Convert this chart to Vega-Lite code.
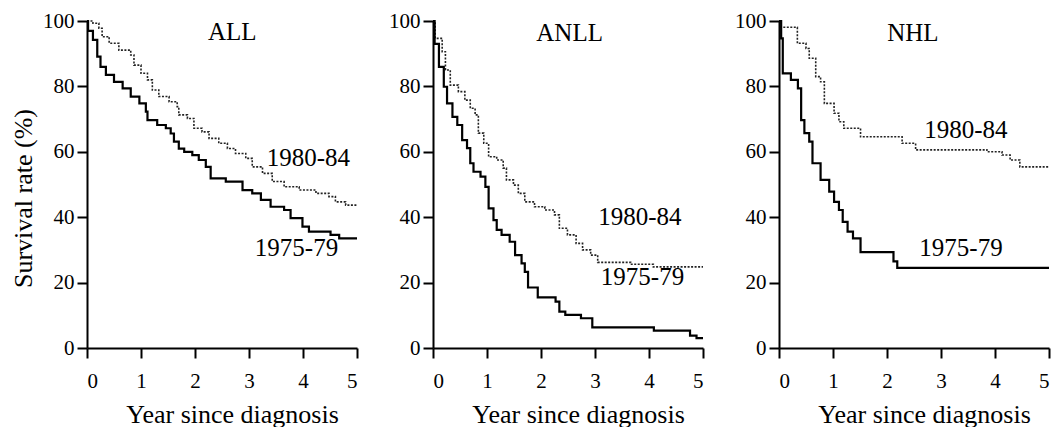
{
  "$schema": "https://vega.github.io/schema/vega-lite/v6.json",
  "background": "white",
  "padding": {"left": 10, "top": 10, "right": 0, "bottom": 0},
  "config": {
    "view": {"stroke": null},
    "font": "Liberation Serif",
    "axis": {
      "domainColor": "black", "domainWidth": 2,
      "tickColor": "black", "tickWidth": 2, "tickSize": 10,
      "labelFont": "Liberation Serif", "labelFontSize": 21, "labelColor": "black",
      "titleFont": "Liberation Serif", "titleFontSize": 26, "titleFontWeight": "normal", "titleColor": "black",
      "grid": false
    },
    "axisX": {"labelPadding": 12, "titlePadding": 10, "titleX": 145, "labelFontSize": 21, "labelFont": "Liberation Serif"},
    "axisY": {"labelPadding": 3, "labelFont": "Liberation Serif"}
  },
  "datasets": {
    "surv": [
      {"panel": "ALL", "period": "1975-79", "t": 0, "v": 100},
      {"panel": "ALL", "period": "1975-79", "t": 0.02, "v": 97},
      {"panel": "ALL", "period": "1975-79", "t": 0.11, "v": 94.2},
      {"panel": "ALL", "period": "1975-79", "t": 0.19, "v": 89.1},
      {"panel": "ALL", "period": "1975-79", "t": 0.25, "v": 86},
      {"panel": "ALL", "period": "1975-79", "t": 0.35, "v": 83.5},
      {"panel": "ALL", "period": "1975-79", "t": 0.5, "v": 81.4},
      {"panel": "ALL", "period": "1975-79", "t": 0.66, "v": 79.4},
      {"panel": "ALL", "period": "1975-79", "t": 0.81, "v": 76.9},
      {"panel": "ALL", "period": "1975-79", "t": 0.97, "v": 74.8},
      {"panel": "ALL", "period": "1975-79", "t": 1.09, "v": 72.3},
      {"panel": "ALL", "period": "1975-79", "t": 1.12, "v": 69.7},
      {"panel": "ALL", "period": "1975-79", "t": 1.3, "v": 68.2},
      {"panel": "ALL", "period": "1975-79", "t": 1.46, "v": 67.2},
      {"panel": "ALL", "period": "1975-79", "t": 1.55, "v": 65.6},
      {"panel": "ALL", "period": "1975-79", "t": 1.61, "v": 63.1},
      {"panel": "ALL", "period": "1975-79", "t": 1.7, "v": 61},
      {"panel": "ALL", "period": "1975-79", "t": 1.8, "v": 60},
      {"panel": "ALL", "period": "1975-79", "t": 1.95, "v": 59},
      {"panel": "ALL", "period": "1975-79", "t": 2.07, "v": 57.5},
      {"panel": "ALL", "period": "1975-79", "t": 2.2, "v": 55.4},
      {"panel": "ALL", "period": "1975-79", "t": 2.29, "v": 51.9},
      {"panel": "ALL", "period": "1975-79", "t": 2.57, "v": 50.9},
      {"panel": "ALL", "period": "1975-79", "t": 2.88, "v": 48.3},
      {"panel": "ALL", "period": "1975-79", "t": 3.06, "v": 47.3},
      {"panel": "ALL", "period": "1975-79", "t": 3.22, "v": 45.3},
      {"panel": "ALL", "period": "1975-79", "t": 3.4, "v": 43.2},
      {"panel": "ALL", "period": "1975-79", "t": 3.65, "v": 42.2},
      {"panel": "ALL", "period": "1975-79", "t": 3.77, "v": 39.7},
      {"panel": "ALL", "period": "1975-79", "t": 3.99, "v": 37.1},
      {"panel": "ALL", "period": "1975-79", "t": 4.11, "v": 35.6},
      {"panel": "ALL", "period": "1975-79", "t": 4.51, "v": 34.6},
      {"panel": "ALL", "period": "1975-79", "t": 4.67, "v": 33.5},
      {"panel": "ALL", "period": "1975-79", "t": 5, "v": 33.5},
      {"panel": "ALL", "period": "1980-84", "t": 0, "v": 100},
      {"panel": "ALL", "period": "1980-84", "t": 0.11, "v": 99.3},
      {"panel": "ALL", "period": "1980-84", "t": 0.22, "v": 97.8},
      {"panel": "ALL", "period": "1980-84", "t": 0.28, "v": 95.2},
      {"panel": "ALL", "period": "1980-84", "t": 0.41, "v": 93.2},
      {"panel": "ALL", "period": "1980-84", "t": 0.59, "v": 91.1},
      {"panel": "ALL", "period": "1980-84", "t": 0.81, "v": 89.6},
      {"panel": "ALL", "period": "1980-84", "t": 0.87, "v": 86.5},
      {"panel": "ALL", "period": "1980-84", "t": 1.0, "v": 84},
      {"panel": "ALL", "period": "1980-84", "t": 1.12, "v": 82},
      {"panel": "ALL", "period": "1980-84", "t": 1.21, "v": 78.9},
      {"panel": "ALL", "period": "1980-84", "t": 1.33, "v": 76.9},
      {"panel": "ALL", "period": "1980-84", "t": 1.52, "v": 75.3},
      {"panel": "ALL", "period": "1980-84", "t": 1.67, "v": 73.8},
      {"panel": "ALL", "period": "1980-84", "t": 1.7, "v": 71.3},
      {"panel": "ALL", "period": "1980-84", "t": 1.86, "v": 70.2},
      {"panel": "ALL", "period": "1980-84", "t": 1.98, "v": 67.2},
      {"panel": "ALL", "period": "1980-84", "t": 2.13, "v": 66.1},
      {"panel": "ALL", "period": "1980-84", "t": 2.26, "v": 64.1},
      {"panel": "ALL", "period": "1980-84", "t": 2.44, "v": 62.6},
      {"panel": "ALL", "period": "1980-84", "t": 2.6, "v": 61},
      {"panel": "ALL", "period": "1980-84", "t": 2.75, "v": 59.5},
      {"panel": "ALL", "period": "1980-84", "t": 2.94, "v": 58},
      {"panel": "ALL", "period": "1980-84", "t": 3.06, "v": 55.4},
      {"panel": "ALL", "period": "1980-84", "t": 3.25, "v": 53.4},
      {"panel": "ALL", "period": "1980-84", "t": 3.43, "v": 50.9},
      {"panel": "ALL", "period": "1980-84", "t": 3.65, "v": 49.3},
      {"panel": "ALL", "period": "1980-84", "t": 3.93, "v": 48.3},
      {"panel": "ALL", "period": "1980-84", "t": 4.24, "v": 47.3},
      {"panel": "ALL", "period": "1980-84", "t": 4.48, "v": 46.3},
      {"panel": "ALL", "period": "1980-84", "t": 4.6, "v": 44.7},
      {"panel": "ALL", "period": "1980-84", "t": 4.79, "v": 43.7},
      {"panel": "ALL", "period": "1980-84", "t": 5, "v": 43.7},
      {"panel": "ANLL", "period": "1975-79", "t": 0, "v": 100},
      {"panel": "ANLL", "period": "1975-79", "t": 0.03, "v": 93},
      {"panel": "ANLL", "period": "1975-79", "t": 0.11, "v": 86},
      {"panel": "ANLL", "period": "1975-79", "t": 0.2, "v": 79.9},
      {"panel": "ANLL", "period": "1975-79", "t": 0.26, "v": 74.8},
      {"panel": "ANLL", "period": "1975-79", "t": 0.36, "v": 70.7},
      {"panel": "ANLL", "period": "1975-79", "t": 0.45, "v": 68.2},
      {"panel": "ANLL", "period": "1975-79", "t": 0.54, "v": 63.6},
      {"panel": "ANLL", "period": "1975-79", "t": 0.63, "v": 61.1},
      {"panel": "ANLL", "period": "1975-79", "t": 0.69, "v": 56.5},
      {"panel": "ANLL", "period": "1975-79", "t": 0.75, "v": 53.9},
      {"panel": "ANLL", "period": "1975-79", "t": 0.88, "v": 52.4},
      {"panel": "ANLL", "period": "1975-79", "t": 0.97, "v": 49.3},
      {"panel": "ANLL", "period": "1975-79", "t": 1.03, "v": 42.7},
      {"panel": "ANLL", "period": "1975-79", "t": 1.12, "v": 39.1},
      {"panel": "ANLL", "period": "1975-79", "t": 1.18, "v": 36.1},
      {"panel": "ANLL", "period": "1975-79", "t": 1.27, "v": 34.6},
      {"panel": "ANLL", "period": "1975-79", "t": 1.42, "v": 32.5},
      {"panel": "ANLL", "period": "1975-79", "t": 1.52, "v": 28.4},
      {"panel": "ANLL", "period": "1975-79", "t": 1.64, "v": 25.9},
      {"panel": "ANLL", "period": "1975-79", "t": 1.7, "v": 23.3},
      {"panel": "ANLL", "period": "1975-79", "t": 1.76, "v": 18.5},
      {"panel": "ANLL", "period": "1975-79", "t": 1.94, "v": 15.5},
      {"panel": "ANLL", "period": "1975-79", "t": 2.27, "v": 14.2},
      {"panel": "ANLL", "period": "1975-79", "t": 2.34, "v": 11.1},
      {"panel": "ANLL", "period": "1975-79", "t": 2.45, "v": 10.1},
      {"panel": "ANLL", "period": "1975-79", "t": 2.74, "v": 9.1},
      {"panel": "ANLL", "period": "1975-79", "t": 2.95, "v": 6.3},
      {"panel": "ANLL", "period": "1975-79", "t": 4.09, "v": 5.3},
      {"panel": "ANLL", "period": "1975-79", "t": 4.76, "v": 3.8},
      {"panel": "ANLL", "period": "1975-79", "t": 4.88, "v": 3.0},
      {"panel": "ANLL", "period": "1975-79", "t": 5, "v": 3.0},
      {"panel": "ANLL", "period": "1980-84", "t": 0, "v": 100},
      {"panel": "ANLL", "period": "1980-84", "t": 0.04, "v": 94.7},
      {"panel": "ANLL", "period": "1980-84", "t": 0.17, "v": 90.6},
      {"panel": "ANLL", "period": "1980-84", "t": 0.23, "v": 85},
      {"panel": "ANLL", "period": "1980-84", "t": 0.32, "v": 80.4},
      {"panel": "ANLL", "period": "1980-84", "t": 0.47, "v": 78.4},
      {"panel": "ANLL", "period": "1980-84", "t": 0.59, "v": 75.8},
      {"panel": "ANLL", "period": "1980-84", "t": 0.69, "v": 73.3},
      {"panel": "ANLL", "period": "1980-84", "t": 0.78, "v": 71.3},
      {"panel": "ANLL", "period": "1980-84", "t": 0.84, "v": 65.7},
      {"panel": "ANLL", "period": "1980-84", "t": 0.94, "v": 62.6},
      {"panel": "ANLL", "period": "1980-84", "t": 1.03, "v": 58.5},
      {"panel": "ANLL", "period": "1980-84", "t": 1.18, "v": 57.5},
      {"panel": "ANLL", "period": "1980-84", "t": 1.3, "v": 55},
      {"panel": "ANLL", "period": "1980-84", "t": 1.36, "v": 51.4},
      {"panel": "ANLL", "period": "1980-84", "t": 1.49, "v": 49.8},
      {"panel": "ANLL", "period": "1980-84", "t": 1.58, "v": 47.3},
      {"panel": "ANLL", "period": "1980-84", "t": 1.7, "v": 44.7},
      {"panel": "ANLL", "period": "1980-84", "t": 1.88, "v": 43.2},
      {"panel": "ANLL", "period": "1980-84", "t": 2.07, "v": 42.2},
      {"panel": "ANLL", "period": "1980-84", "t": 2.25, "v": 40.7},
      {"panel": "ANLL", "period": "1980-84", "t": 2.34, "v": 36.6},
      {"panel": "ANLL", "period": "1980-84", "t": 2.49, "v": 34.6},
      {"panel": "ANLL", "period": "1980-84", "t": 2.65, "v": 32},
      {"panel": "ANLL", "period": "1980-84", "t": 2.77, "v": 30},
      {"panel": "ANLL", "period": "1980-84", "t": 2.92, "v": 28.4},
      {"panel": "ANLL", "period": "1980-84", "t": 3.05, "v": 26.2},
      {"panel": "ANLL", "period": "1980-84", "t": 3.66, "v": 25.6},
      {"panel": "ANLL", "period": "1980-84", "t": 4.08, "v": 24.8},
      {"panel": "ANLL", "period": "1980-84", "t": 5, "v": 24.8},
      {"panel": "NHL", "period": "1975-79", "t": 0, "v": 100},
      {"panel": "NHL", "period": "1975-79", "t": 0.04, "v": 94.7},
      {"panel": "NHL", "period": "1975-79", "t": 0.07, "v": 84},
      {"panel": "NHL", "period": "1975-79", "t": 0.22, "v": 82},
      {"panel": "NHL", "period": "1975-79", "t": 0.35, "v": 79.4},
      {"panel": "NHL", "period": "1975-79", "t": 0.41, "v": 69.7},
      {"panel": "NHL", "period": "1975-79", "t": 0.47, "v": 65.7},
      {"panel": "NHL", "period": "1975-79", "t": 0.56, "v": 63.1},
      {"panel": "NHL", "period": "1975-79", "t": 0.62, "v": 56.5},
      {"panel": "NHL", "period": "1975-79", "t": 0.77, "v": 51.4},
      {"panel": "NHL", "period": "1975-79", "t": 0.93, "v": 47.8},
      {"panel": "NHL", "period": "1975-79", "t": 1.02, "v": 44.7},
      {"panel": "NHL", "period": "1975-79", "t": 1.11, "v": 42.2},
      {"panel": "NHL", "period": "1975-79", "t": 1.18, "v": 38.6},
      {"panel": "NHL", "period": "1975-79", "t": 1.27, "v": 35.6},
      {"panel": "NHL", "period": "1975-79", "t": 1.37, "v": 33.5},
      {"panel": "NHL", "period": "1975-79", "t": 1.51, "v": 29.3},
      {"panel": "NHL", "period": "1975-79", "t": 2.12, "v": 26.5},
      {"panel": "NHL", "period": "1975-79", "t": 2.19, "v": 24.5},
      {"panel": "NHL", "period": "1975-79", "t": 5, "v": 24.5},
      {"panel": "NHL", "period": "1980-84", "t": 0, "v": 100},
      {"panel": "NHL", "period": "1980-84", "t": 0.04, "v": 98.1},
      {"panel": "NHL", "period": "1980-84", "t": 0.34, "v": 93.2},
      {"panel": "NHL", "period": "1980-84", "t": 0.5, "v": 91.6},
      {"panel": "NHL", "period": "1980-84", "t": 0.56, "v": 88.6},
      {"panel": "NHL", "period": "1980-84", "t": 0.68, "v": 83},
      {"panel": "NHL", "period": "1980-84", "t": 0.77, "v": 81.4},
      {"panel": "NHL", "period": "1980-84", "t": 0.84, "v": 74.8},
      {"panel": "NHL", "period": "1980-84", "t": 1.02, "v": 71.8},
      {"panel": "NHL", "period": "1980-84", "t": 1.11, "v": 69.2},
      {"panel": "NHL", "period": "1980-84", "t": 1.2, "v": 67.2},
      {"panel": "NHL", "period": "1980-84", "t": 1.51, "v": 64.6},
      {"panel": "NHL", "period": "1980-84", "t": 2.28, "v": 62.6},
      {"panel": "NHL", "period": "1980-84", "t": 2.53, "v": 60.6},
      {"panel": "NHL", "period": "1980-84", "t": 3.85, "v": 60},
      {"panel": "NHL", "period": "1980-84", "t": 4.13, "v": 59},
      {"panel": "NHL", "period": "1980-84", "t": 4.28, "v": 57.5},
      {"panel": "NHL", "period": "1980-84", "t": 4.46, "v": 55.4},
      {"panel": "NHL", "period": "1980-84", "t": 5, "v": 55.4}
    ],
    "labels": [
      {"panel": "ALL", "label": "ALL", "t": 2.69, "v": 96.5},
      {"panel": "ALL", "label": "1980-84", "t": 4.1, "v": 58.1},
      {"panel": "ALL", "label": "1975-79", "t": 3.88, "v": 30.6},
      {"panel": "ANLL", "label": "ANLL", "t": 2.53, "v": 96.2},
      {"panel": "ANLL", "label": "1980-84", "t": 3.83, "v": 40.1},
      {"panel": "ANLL", "label": "1975-79", "t": 3.88, "v": 21.6},
      {"panel": "NHL", "label": "NHL", "t": 2.48, "v": 96.3},
      {"panel": "NHL", "label": "1980-84", "t": 3.46, "v": 66.7},
      {"panel": "NHL", "label": "1975-79", "t": 3.37, "v": 30.6}
    ]
  },
  "bounds": "flush",
  "spacing": 76,
  "hconcat": [
    {
      "width": 270, "height": 327,
      "layer": [
        {
          "data": {"name": "surv"},
          "transform": [{"filter": "datum.panel == 'ALL' && datum.period == '1980-84'"}],
          "mark": {"type": "line", "interpolate": "step-after", "color": "#222", "strokeWidth": 1.6, "strokeDash": [2, 1.5]},
          "encoding": {
            "x": {"field": "t", "type": "quantitative", "scale": {"domain": [0, 5], "nice": false}, "axis": {"values": [0, 1, 2, 3, 4, 5], "title": "Year since diagnosis", "labelFont": "Liberation Serif", "labelFontSize": 21}},
            "y": {"field": "v", "type": "quantitative", "scale": {"domain": [0, 100], "nice": false}, "axis": {"values": [0, 20, 40, 60, 80, 100], "labelFont": "Liberation Serif", "labelFontSize": 21, "title": "Survival rate (%)", "titleX": -56, "titleY": 177, "titleAngle": -90, "titleBaseline": "alphabetic", "titleAlign": "center"}}
          }
        },
        {
          "data": {"name": "surv"},
          "transform": [{"filter": "datum.panel == 'ALL' && datum.period == '1975-79'"}],
          "mark": {"type": "line", "interpolate": "step-after", "color": "black", "strokeWidth": 2.2},
          "encoding": {
            "x": {"field": "t", "type": "quantitative"},
            "y": {"field": "v", "type": "quantitative"}
          }
        },
        {
          "data": {"name": "labels"},
          "transform": [{"filter": "datum.panel == 'ALL'"}],
          "mark": {"type": "text", "font": "Liberation Serif", "fontSize": 25, "color": "black", "align": "center", "baseline": "middle"},
          "encoding": {
            "x": {"field": "t", "type": "quantitative"},
            "y": {"field": "v", "type": "quantitative"},
            "text": {"field": "label"}
          }
        }
      ]
    },
    {
      "width": 270, "height": 327,
      "layer": [
        {
          "data": {"name": "surv"},
          "transform": [{"filter": "datum.panel == 'ANLL' && datum.period == '1980-84'"}],
          "mark": {"type": "line", "interpolate": "step-after", "color": "#222", "strokeWidth": 1.6, "strokeDash": [2, 1.5]},
          "encoding": {
            "x": {"field": "t", "type": "quantitative", "scale": {"domain": [0, 5], "nice": false}, "axis": {"values": [0, 1, 2, 3, 4, 5], "title": "Year since diagnosis", "labelFont": "Liberation Serif", "labelFontSize": 21}},
            "y": {"field": "v", "type": "quantitative", "scale": {"domain": [0, 100], "nice": false}, "axis": {"values": [0, 20, 40, 60, 80, 100], "title": null, "labelFont": "Liberation Serif", "labelFontSize": 21}}
          }
        },
        {
          "data": {"name": "surv"},
          "transform": [{"filter": "datum.panel == 'ANLL' && datum.period == '1975-79'"}],
          "mark": {"type": "line", "interpolate": "step-after", "color": "black", "strokeWidth": 2.2},
          "encoding": {
            "x": {"field": "t", "type": "quantitative"},
            "y": {"field": "v", "type": "quantitative"}
          }
        },
        {
          "data": {"name": "labels"},
          "transform": [{"filter": "datum.panel == 'ANLL'"}],
          "mark": {"type": "text", "font": "Liberation Serif", "fontSize": 25, "color": "black", "align": "center", "baseline": "middle"},
          "encoding": {
            "x": {"field": "t", "type": "quantitative"},
            "y": {"field": "v", "type": "quantitative"},
            "text": {"field": "label"}
          }
        }
      ]
    },
    {
      "width": 270, "height": 327,
      "layer": [
        {
          "data": {"name": "surv"},
          "transform": [{"filter": "datum.panel == 'NHL' && datum.period == '1980-84'"}],
          "mark": {"type": "line", "interpolate": "step-after", "color": "#222", "strokeWidth": 1.6, "strokeDash": [2, 1.5]},
          "encoding": {
            "x": {"field": "t", "type": "quantitative", "scale": {"domain": [0, 5], "nice": false}, "axis": {"values": [0, 1, 2, 3, 4, 5], "title": "Year since diagnosis", "labelFont": "Liberation Serif", "labelFontSize": 21}},
            "y": {"field": "v", "type": "quantitative", "scale": {"domain": [0, 100], "nice": false}, "axis": {"values": [0, 20, 40, 60, 80, 100], "title": null, "labelFont": "Liberation Serif", "labelFontSize": 21}}
          }
        },
        {
          "data": {"name": "surv"},
          "transform": [{"filter": "datum.panel == 'NHL' && datum.period == '1975-79'"}],
          "mark": {"type": "line", "interpolate": "step-after", "color": "black", "strokeWidth": 2.2},
          "encoding": {
            "x": {"field": "t", "type": "quantitative"},
            "y": {"field": "v", "type": "quantitative"}
          }
        },
        {
          "data": {"name": "labels"},
          "transform": [{"filter": "datum.panel == 'NHL'"}],
          "mark": {"type": "text", "font": "Liberation Serif", "fontSize": 25, "color": "black", "align": "center", "baseline": "middle"},
          "encoding": {
            "x": {"field": "t", "type": "quantitative"},
            "y": {"field": "v", "type": "quantitative"},
            "text": {"field": "label"}
          }
        }
      ]
    }
  ]
}
